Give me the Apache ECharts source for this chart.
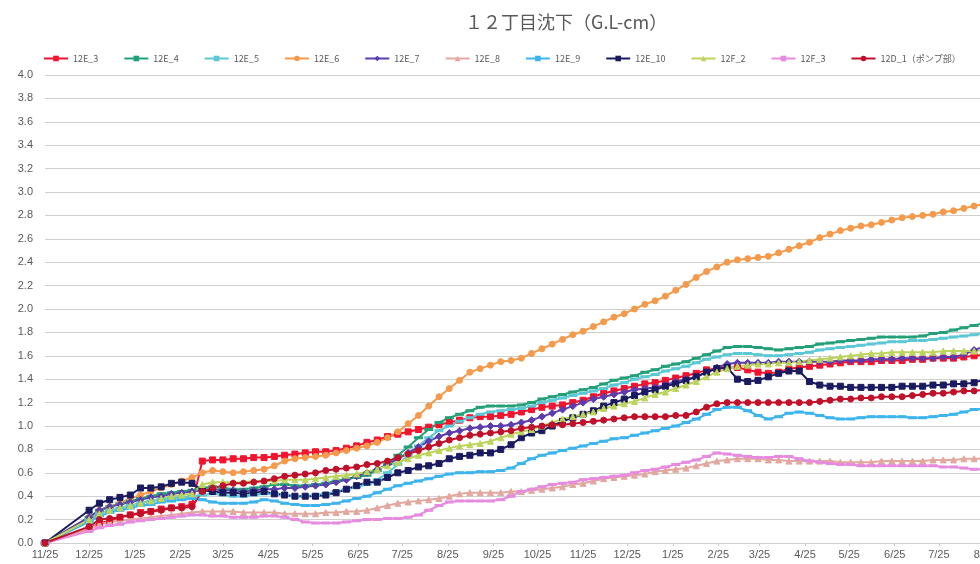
<!DOCTYPE html>
<html><head><meta charset="utf-8">
<script src="https://cdn.jsdelivr.net/npm/echarts@6/dist/echarts.min.js"></script>
<style>html,body{margin:0;padding:0;background:#fff}#c{width:980px;height:564px}</style>
</head><body><div id="c"></div>
<script>
// Survey dates: first reading 11/25, then 12/25 and weekly afterwards
const firstDate = [2015, 10, 25];
const weeklyStart = [2015, 11, 25];
const weeklyCount = 88;
// Month labels (25th of each month)
const labelMonths = 23;

const seriesNames = ['12E_3','12E_4','12E_5','12E_6','12E_7','12E_8','12E_9','12E_10','12F_2','12F_3','12D_1（ポンプ部）'];

const s12E_3 = [0, 0.12,0.17,0.19,0.22,0.24,0.26,0.27,0.29,0.3,0.31, 0.33,0.70,0.71,0.71,0.72,0.72,0.73,0.73,0.74,0.75, 0.76,0.77,0.78,0.78,0.79,0.81,0.83,0.86,0.88,0.91, 0.93,0.95,0.97,0.99,1.01,1.03,1.05,1.07,1.08,1.08, 1.09,1.1,1.12,1.14,1.16,1.17,1.18,1.2,1.22,1.25, 1.28,1.3,1.32,1.34,1.36,1.37,1.39,1.41,1.43,1.45, 1.48,1.49,1.5,1.5,1.48,1.46,1.45,1.46,1.49,1.5, 1.51,1.52,1.53,1.54,1.55,1.55,1.55,1.56,1.56,1.56, 1.57,1.57,1.58,1.58,1.58,1.59,1.6,1.61];
const s12E_4 = [0, 0.22,0.28,0.31,0.34,0.36,0.38,0.4,0.42,0.43,0.44, 0.45,0.47,0.48,0.47,0.46,0.46,0.47,0.48,0.5,0.5, 0.49,0.49,0.5,0.51,0.53,0.55,0.56,0.58,0.62,0.68, 0.75,0.82,0.9,0.97,1.03,1.07,1.1,1.13,1.16,1.17, 1.17,1.17,1.18,1.2,1.23,1.25,1.27,1.29,1.31,1.33, 1.36,1.39,1.41,1.43,1.46,1.48,1.51,1.53,1.55,1.58, 1.61,1.64,1.67,1.68,1.68,1.67,1.66,1.65,1.66,1.67, 1.68,1.7,1.71,1.72,1.73,1.74,1.75,1.76,1.76,1.76, 1.76,1.77,1.79,1.8,1.82,1.84,1.86,1.88];
const s12E_5 = [0, 0.2,0.25,0.28,0.3,0.32,0.34,0.36,0.37,0.38,0.39, 0.4,0.41,0.42,0.41,0.4,0.4,0.41,0.42,0.42,0.41, 0.4,0.4,0.41,0.42,0.44,0.46,0.48,0.5,0.54,0.6, 0.67,0.75,0.83,0.9,0.96,1.0,1.04,1.07,1.1,1.12, 1.13,1.14,1.15,1.17,1.2,1.22,1.24,1.26,1.28,1.3, 1.32,1.35,1.37,1.4,1.42,1.44,1.47,1.49,1.51,1.54, 1.57,1.59,1.61,1.62,1.62,1.61,1.6,1.6,1.61,1.62, 1.63,1.65,1.66,1.67,1.68,1.69,1.7,1.71,1.72,1.72, 1.73,1.73,1.74,1.75,1.76,1.77,1.78,1.8];
const s12E_6 = [0, 0.22,0.28,0.31,0.34,0.38,0.41,0.44,0.47,0.5,0.53, 0.56,0.6,0.62,0.61,0.6,0.61,0.62,0.63,0.66,0.7, 0.72,0.73,0.74,0.75,0.77,0.79,0.81,0.83,0.86,0.9, 0.95,1.02,1.09,1.17,1.25,1.32,1.39,1.46,1.49,1.52, 1.55,1.56,1.58,1.62,1.66,1.7,1.74,1.78,1.81,1.85, 1.89,1.93,1.96,2.0,2.04,2.07,2.11,2.16,2.21,2.27, 2.32,2.36,2.4,2.42,2.43,2.44,2.45,2.48,2.51,2.54, 2.57,2.61,2.64,2.67,2.69,2.71,2.72,2.74,2.76,2.78, 2.79,2.8,2.81,2.83,2.84,2.86,2.88,2.9];
const s12E_7 = [0, 0.22,0.28,0.31,0.33,0.35,0.37,0.39,0.4,0.42,0.43, 0.44,0.45,0.46,0.45,0.45,0.44,0.45,0.46,0.46,0.47, 0.47,0.48,0.49,0.5,0.52,0.54,0.57,0.6,0.63,0.67, 0.72,0.77,0.82,0.87,0.91,0.94,0.96,0.98,0.99,1.0, 1.0,1.01,1.03,1.05,1.08,1.11,1.14,1.17,1.2,1.23, 1.25,1.27,1.29,1.31,1.32,1.33,1.35,1.38,1.4,1.42, 1.46,1.5,1.53,1.54,1.54,1.54,1.54,1.55,1.55,1.55, 1.55,1.55,1.55,1.56,1.56,1.56,1.57,1.57,1.57,1.58, 1.58,1.58,1.58,1.59,1.59,1.61,1.65,1.68];
const s12E_8 = [0, 0.12,0.16,0.18,0.19,0.2,0.21,0.22,0.23,0.24,0.25, 0.26,0.27,0.27,0.27,0.27,0.26,0.26,0.26,0.26,0.25, 0.25,0.25,0.25,0.26,0.26,0.27,0.27,0.28,0.3,0.32, 0.34,0.35,0.36,0.37,0.38,0.4,0.42,0.43,0.43,0.43, 0.43,0.44,0.44,0.45,0.46,0.47,0.48,0.5,0.51,0.53, 0.55,0.56,0.57,0.58,0.59,0.61,0.62,0.63,0.64,0.66, 0.68,0.7,0.71,0.72,0.72,0.72,0.71,0.71,0.7,0.7, 0.7,0.7,0.7,0.69,0.69,0.69,0.69,0.7,0.7,0.7, 0.7,0.7,0.71,0.71,0.71,0.72,0.72,0.72];
const s12E_9 = [0, 0.18,0.23,0.26,0.28,0.3,0.32,0.33,0.35,0.36,0.37, 0.38,0.37,0.35,0.34,0.34,0.34,0.35,0.37,0.36,0.34, 0.33,0.32,0.32,0.33,0.34,0.36,0.38,0.4,0.43,0.46, 0.49,0.51,0.53,0.55,0.57,0.59,0.6,0.6,0.61,0.61, 0.62,0.64,0.68,0.72,0.75,0.77,0.79,0.81,0.83,0.85, 0.87,0.89,0.9,0.92,0.94,0.96,0.98,1.0,1.03,1.06, 1.1,1.14,1.16,1.16,1.13,1.09,1.06,1.08,1.11,1.12, 1.11,1.09,1.07,1.06,1.06,1.07,1.08,1.08,1.08,1.08, 1.07,1.07,1.08,1.09,1.1,1.12,1.14,1.15];
const s12E_10 = [0, 0.28,0.34,0.37,0.39,0.41,0.47,0.47,0.48,0.51,0.52, 0.51,0.45,0.44,0.43,0.43,0.42,0.43,0.44,0.42,0.41, 0.4,0.4,0.4,0.41,0.43,0.46,0.49,0.52,0.52,0.56, 0.6,0.62,0.65,0.66,0.68,0.72,0.74,0.75,0.77,0.77, 0.8,0.84,0.9,0.94,0.96,1.0,1.04,1.07,1.1,1.13, 1.17,1.2,1.23,1.26,1.29,1.31,1.34,1.36,1.39,1.42, 1.46,1.49,1.5,1.4,1.38,1.39,1.42,1.45,1.47,1.47, 1.38,1.35,1.34,1.34,1.33,1.33,1.33,1.33,1.33,1.34, 1.34,1.34,1.35,1.35,1.36,1.36,1.37,1.4];
const s12F_2 = [0, 0.2,0.25,0.28,0.3,0.32,0.34,0.36,0.38,0.4,0.41, 0.42,0.5,0.52,0.52,0.52,0.52,0.53,0.53,0.53,0.54, 0.54,0.54,0.55,0.56,0.57,0.58,0.59,0.61,0.63,0.66, 0.69,0.72,0.75,0.77,0.79,0.81,0.83,0.84,0.85,0.87, 0.9,0.93,0.95,0.97,1.0,1.03,1.06,1.08,1.1,1.12, 1.15,1.17,1.19,1.21,1.24,1.27,1.29,1.32,1.35,1.38, 1.42,1.46,1.49,1.51,1.52,1.53,1.53,1.54,1.54,1.55, 1.56,1.57,1.58,1.59,1.6,1.61,1.62,1.62,1.63,1.63, 1.63,1.63,1.63,1.64,1.64,1.64,1.64,1.65];
const s12F_3 = [0, 0.1,0.13,0.15,0.16,0.18,0.19,0.2,0.21,0.22,0.23, 0.24,0.24,0.23,0.23,0.22,0.22,0.22,0.23,0.23,0.22, 0.2,0.18,0.17,0.17,0.17,0.18,0.19,0.2,0.2,0.21, 0.21,0.22,0.24,0.28,0.32,0.35,0.36,0.36,0.36,0.36, 0.37,0.4,0.44,0.46,0.48,0.5,0.51,0.52,0.54,0.55, 0.56,0.57,0.58,0.6,0.62,0.63,0.65,0.67,0.69,0.71, 0.74,0.77,0.76,0.75,0.74,0.73,0.73,0.74,0.74,0.72, 0.7,0.69,0.68,0.67,0.67,0.66,0.66,0.66,0.66,0.66, 0.66,0.66,0.66,0.65,0.65,0.64,0.63,0.63];
const s12D_1 = [0, 0.14,0.2,0.21,0.22,0.24,0.25,0.27,0.28,0.3,0.3, 0.31,0.44,0.47,0.49,0.51,0.51,0.52,0.53,0.55,0.57, 0.58,0.59,0.6,0.62,0.63,0.64,0.65,0.67,0.68,0.7, 0.73,0.76,0.79,0.82,0.85,0.88,0.9,0.92,0.93,0.94, 0.95,0.96,0.98,0.99,1.0,1.01,1.01,1.02,1.03,1.04, 1.05,1.06,1.07,1.08,1.08,1.08,1.08,1.09,1.09,1.12, 1.16,1.19,1.2,1.2,1.2,1.2,1.2,1.2,1.2,1.2, 1.2,1.21,1.22,1.23,1.23,1.24,1.24,1.25,1.25,1.25, 1.26,1.27,1.28,1.28,1.29,1.3,1.3,1.31];

const seriesValues = [s12E_3, s12E_4, s12E_5, s12E_6, s12E_7, s12E_8, s12E_9, s12E_10, s12F_2, s12F_3, s12D_1];

// styles
const colors = ['#F0142E','#23A078','#5CC8D6','#F5994A','#5B3DAE','#E2A79E','#3DB4EE','#1A1A60','#BCD45C','#E68BE0','#C0102A'];
const symbols = ['rect','rect','rect','circle','diamond','triangle','rect','rect','triangle','rect','circle'];
const symbolSizes = [6,[6,2],[6,2],6,7,6,[6,2],6,6,[6,2],6];

// day offsets from the first survey date
const DAY = 86400000;
const t0 = Date.UTC(firstDate[0], firstDate[1], firstDate[2]);
const dayOf = (y, m, d) => Math.round((Date.UTC(y, m, d) - t0) / DAY);
const days = [0];
for (let i = 0; i < weeklyCount; i++) days.push(dayOf(weeklyStart[0], weeklyStart[1], weeklyStart[2] + 7 * i));
const labelDays = [];
for (let k = 0; k < labelMonths; k++) labelDays.push(dayOf(firstDate[0], firstDate[1] + k, 25));
const dayLabel = v => {
  const d = new Date(t0 + v * DAY);
  return (d.getUTCMonth() + 1) + '/' + d.getUTCDate();
};

const chart = echarts.init(document.getElementById('c'), null, {renderer: 'canvas'});
const font = 'Liberation Sans, Arial, sans-serif';
chart.setOption({
  animation: false,
  backgroundColor: '#ffffff',
  title: {
    text: '１２丁目沈下（G.L-cm）',
    left: 460, top: 8,
    textStyle: {fontSize: 18, fontWeight: 'normal', color: '#595959', fontFamily: 'Noto Sans CJK JP'}
  },
  legend: {
    top: 49, left: 38, width: 942,
    itemWidth: 24, itemHeight: 7, itemGap: 25,
    textStyle: {fontSize: 9, color: '#595959', fontFamily: 'Noto Sans CJK JP'},
    data: seriesNames
  },
  grid: {left: 45, top: 75, bottom: 21, right: -50, outerBoundsMode: 'none', containLabel: false},
  xAxis: {
    type: 'value',
    min: 0,
    max: labelDays[labelDays.length - 1],
    axisLine: {show: true, onZero: false, lineStyle: {color: '#D0D0D0'}},
    axisTick: {show: true, length: 3, customValues: labelDays, lineStyle: {color: '#C8C8C8'}},
    splitLine: {show: false},
    axisLabel: {
      customValues: labelDays,
      color: '#595959', fontSize: 11, fontFamily: font, margin: 6,
      formatter: dayLabel
    }
  },
  yAxis: {
    type: 'value', min: 0, max: 4, interval: 0.2,
    axisLine: {show: false}, axisTick: {show: false},
    splitLine: {lineStyle: {color: '#D0D0D0', width: 1}},
    axisLabel: {color: '#595959', fontSize: 11, fontFamily: font, margin: 12, formatter: v => v.toFixed(1)}
  },
  series: seriesNames.map((name, i) => ({
    name: name,
    type: 'line',
    data: days.map((d, j) => [d, seriesValues[i][j]]),
    symbol: symbols[i],
    symbolSize: symbolSizes[i],
    showSymbol: true,
    lineStyle: {width: 2, color: colors[i]},
    itemStyle: {color: colors[i], borderColor: colors[i]},
    emphasis: {disabled: true}
  }))
});
</script>
</body></html>
